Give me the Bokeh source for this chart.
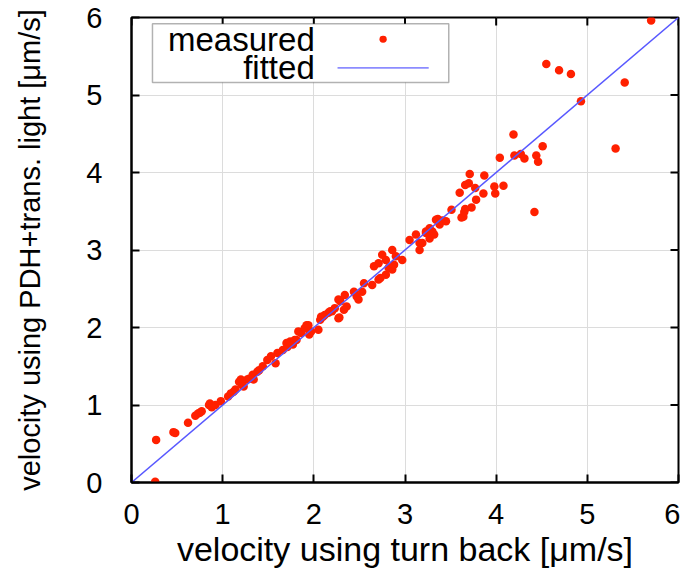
import math
from bokeh.plotting import figure
from bokeh.models import BoxAnnotation, Label, Range1d
from bokeh.embed import file_html
from bokeh.resources import INLINE

# measured velocities (turn back, PDH+trans. light) in um/s
measured_x = [0.26, 0.27, 0.46, 0.48, 0.62, 0.70, 0.73, 0.75, 0.77, 0.85, 0.86, 0.88, 0.92, 0.98,
              1.06, 1.09, 1.12, 1.14, 1.18, 1.20, 1.21, 1.23, 1.27, 1.29, 1.33, 1.34, 1.38, 1.40,
              1.44, 1.49, 1.53, 1.58, 1.60, 1.66, 1.70, 1.71, 1.74, 1.77, 1.79, 1.81, 1.83, 1.86,
              1.90, 1.92, 1.94, 1.95, 1.97, 2.05, 2.07, 2.08, 2.10, 2.12, 2.16, 2.18, 2.20, 2.23,
              2.27, 2.27, 2.28, 2.29, 2.33, 2.34, 2.36, 2.44, 2.47, 2.49, 2.53, 2.55, 2.64, 2.66,
              2.71, 2.71, 2.73, 2.75, 2.79, 2.79, 2.82, 2.86, 2.86, 2.88, 2.90, 2.97, 3.05, 3.12,
              3.16, 3.19, 3.16, 3.23, 3.23, 3.27, 3.27, 3.30, 3.32, 3.34, 3.38, 3.36, 3.41, 3.45,
              3.51, 3.62, 3.64, 3.65, 3.66, 3.73, 3.78, 3.60, 3.66, 3.70, 3.71, 3.77, 3.86, 3.87,
              3.98, 3.99, 4.08, 4.04, 4.19, 4.20, 4.27, 4.31, 4.44, 4.46, 4.42, 4.51, 4.93, 5.31,
              4.55, 4.69, 4.82, 5.41, 5.70]
measured_y = [0.01, 0.55, 0.65, 0.64, 0.77, 0.86, 0.89, 0.90, 0.92, 1.00, 1.02, 0.97, 1.00, 1.05,
              1.11, 1.15, 1.17, 1.20, 1.30, 1.33, 1.26, 1.24, 1.33, 1.34, 1.39, 1.33, 1.43, 1.45,
              1.50, 1.58, 1.63, 1.54, 1.67, 1.71, 1.80, 1.75, 1.82, 1.78, 1.84, 1.84, 1.95, 1.93,
              1.99, 2.03, 2.03, 1.91, 1.95, 1.97, 2.10, 2.14, 2.14, 2.16, 2.19, 2.21, 2.21, 2.25,
              2.36, 2.12, 2.13, 2.34, 2.23, 2.42, 2.27, 2.46, 2.40, 2.36, 2.46, 2.57, 2.55, 2.79,
              2.83, 2.62, 2.64, 2.94, 2.68, 2.87, 2.77, 3.00, 2.75, 2.81, 2.92, 2.87, 3.13, 3.20,
              3.00, 3.09, 3.09, 3.22, 3.24, 3.28, 3.15, 3.24, 3.20, 3.39, 3.33, 3.40, 3.38, 3.37,
              3.52, 3.42, 3.43, 3.49, 3.53, 3.55, 3.65, 3.74, 3.84, 3.86, 3.98, 3.80, 3.73, 3.96,
              3.82, 3.73, 3.83, 4.19, 4.49, 4.22, 4.24, 4.18, 4.22, 4.14, 3.49, 4.34, 4.92, 4.31,
              5.40, 5.32, 5.27, 5.16, 5.96]

# fitted line
fit_x = [0.0, 6.0]
fit_y = [0.0, 6.0]

x_ticks = [0, 1, 2, 3, 4, 5, 6]
y_ticks = [0, 1, 2, 3, 4, 5, 6]
x_title = "velocity using turn back [\u03bcm/s]"
y_title = "velocity using PDH+trans. light [\u03bcm/s]"
legend_labels = ["measured", "fitted"]

FONT = "Liberation Sans"
RED = "#ff2000"
BLUE = "#5858ff"

p = figure(width=680, height=570, x_range=Range1d(0, 6), y_range=Range1d(0, 6),
           output_backend="svg", toolbar_location=None,
           min_border_left=131, min_border_right=2, min_border_top=17, min_border_bottom=88,
           x_axis_label=x_title, y_axis_label=y_title)
p.background_fill_color = "white"
p.border_fill_color = "white"
p.outline_line_color = "black"
p.outline_line_width = 2

p.xaxis.ticker = x_ticks
p.yaxis.ticker = y_ticks
for ax in p.xaxis + p.yaxis:
    ax.major_tick_in = 8
    ax.major_tick_out = 0
    ax.minor_tick_in = 0
    ax.minor_tick_out = 0
    ax.axis_line_width = 2
    ax.axis_line_color = "black"
    ax.major_tick_line_width = 2
    ax.major_tick_line_color = "black"
    ax.major_label_text_font = FONT
    ax.major_label_text_font_size = "29px"
    ax.major_label_text_color = "black"
    ax.axis_label_text_font = FONT
    ax.axis_label_text_font_style = "normal"
    ax.axis_label_text_color = "black"

p.xaxis.major_label_standoff = 21
p.xaxis.axis_label_standoff = 3
p.xaxis.axis_label_text_font_size = "34px"
p.yaxis.major_label_standoff = 29
p.yaxis.axis_label_standoff = 37
p.yaxis.axis_label_text_font_size = "29px"

p.grid.grid_line_color = "#dcdcdc"
p.grid.grid_line_width = 1

# mirrored inward ticks on top and right edges (half of each dash is clipped by the frame)
p.scatter(x_ticks, [y_ticks[-1]] * len(x_ticks), marker="dash", size=16, angle=math.pi / 2,
          line_color="black", line_width=2)
p.scatter([x_ticks[-1]] * len(y_ticks), y_ticks, marker="dash", size=16,
          line_color="black", line_width=2)

p.scatter(measured_x, measured_y, size=8.5, color=RED, line_width=0)
p.line(fit_x, fit_y, color=BLUE, line_width=1.5)

# legend (gnuplot style: text then sample)
box = BoxAnnotation(left=0.23, right=3.48, top=5.92, bottom=5.16,
                    fill_color="white", fill_alpha=1.0, line_color="black", line_width=1.5)
p.add_layout(box)
p.add_layout(Label(x=2.01, y=5.72, text=legend_labels[0], text_align="right", text_baseline="middle",
                   text_font=FONT, text_font_size="33px", text_color="black"))
p.add_layout(Label(x=2.01, y=5.35, text=legend_labels[1], text_align="right", text_baseline="middle",
                   text_font=FONT, text_font_size="33px", text_color="black"))
p.add_layout(BoxAnnotation(left=2.72, right=2.80, top=5.765, bottom=5.675, fill_color=RED,
                           fill_alpha=1.0, line_color=None, border_radius=4))
p.add_layout(BoxAnnotation(left=2.26, right=3.26, top=5.362, bottom=5.338, fill_color="#8c8cff",
                           fill_alpha=1.0, line_color=None))

open("out.html", "w").write(file_html(p, INLINE))
